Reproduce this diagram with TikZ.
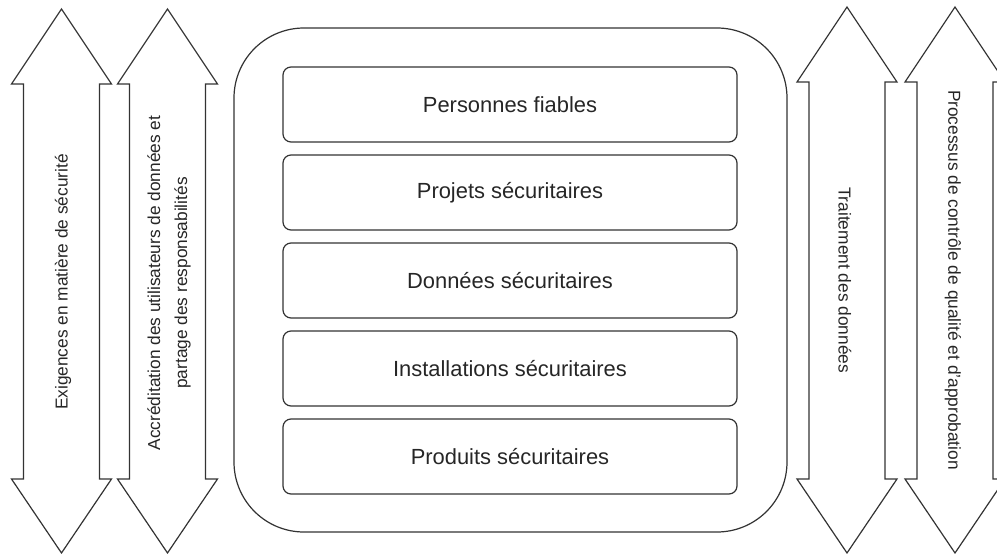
\documentclass[tikz,border=0pt]{standalone}
\usepackage{fontspec}
\setmainfont{Liberation Sans}
\usetikzlibrary{positioning}

\tikzset{
  outline/.style={draw=black!80, line width=1.2pt},
  item/.style={draw=black!80, line width=1.2pt, rounded corners=8pt,
    minimum width=454pt, minimum height=75pt, outer sep=0pt,
    text=black!85, font=\fontsize{21.9}{26}\selectfont},
  sidetext/.style={text=black!85, align=center,
    font=\fontsize{17.3}{27}\selectfont}
}

\begin{document}
\begin{tikzpicture}[x=1pt,y=-1pt]
    \useasboundingbox (0,0) rectangle (997,554);
    % double arrows
    \foreach \cx/\ytop/\ybase in {61.5/9/84, 167.5/9/84, 847/7/82, 955/7/82}{
      \begin{scope}[shift={(\cx,0)}]
        \draw[outline] (0,\ytop) -- (50,\ybase) -- (38,\ybase)
          -- (38,479) -- (50,479) -- (0,553)
          -- (-50,479) -- (-38,479) -- (-38,\ybase)
          -- (-50,\ybase) -- cycle;
      \end{scope}
    }
    \node[sidetext, rotate=90] (exig) at (63,282)
      {Exigences en matière de sécurité};
    \node[sidetext, rotate=90] (accr) at (169,283)
      {Accréditation des utilisateurs de données et\\
       partage des responsabilités};
    \node[sidetext, rotate=-90] (trait) at (845,280)
      {Traitement des données};
    \node[sidetext, rotate=-90] (proc) at (953,280)
      {Processus de contrôle de qualité et d'approbation};
    % central frame
    \node[outline, rounded corners=70pt, minimum width=553pt,
      minimum height=504pt, outer sep=0pt] (core) at (510.5,280) {};
    \node[item] (pers) at (510,104.5) {Personnes fiables};
    \node[item, below=13pt of pers] (proj) {Projets sécuritaires};
    \node[item, below=13pt of proj] (donn) {Données sécuritaires};
    \node[item, below=13pt of donn] (inst) {Installations sécuritaires};
    \node[item, below=13pt of inst] (prod) {Produits sécuritaires};
  \end{tikzpicture}
\end{document}
